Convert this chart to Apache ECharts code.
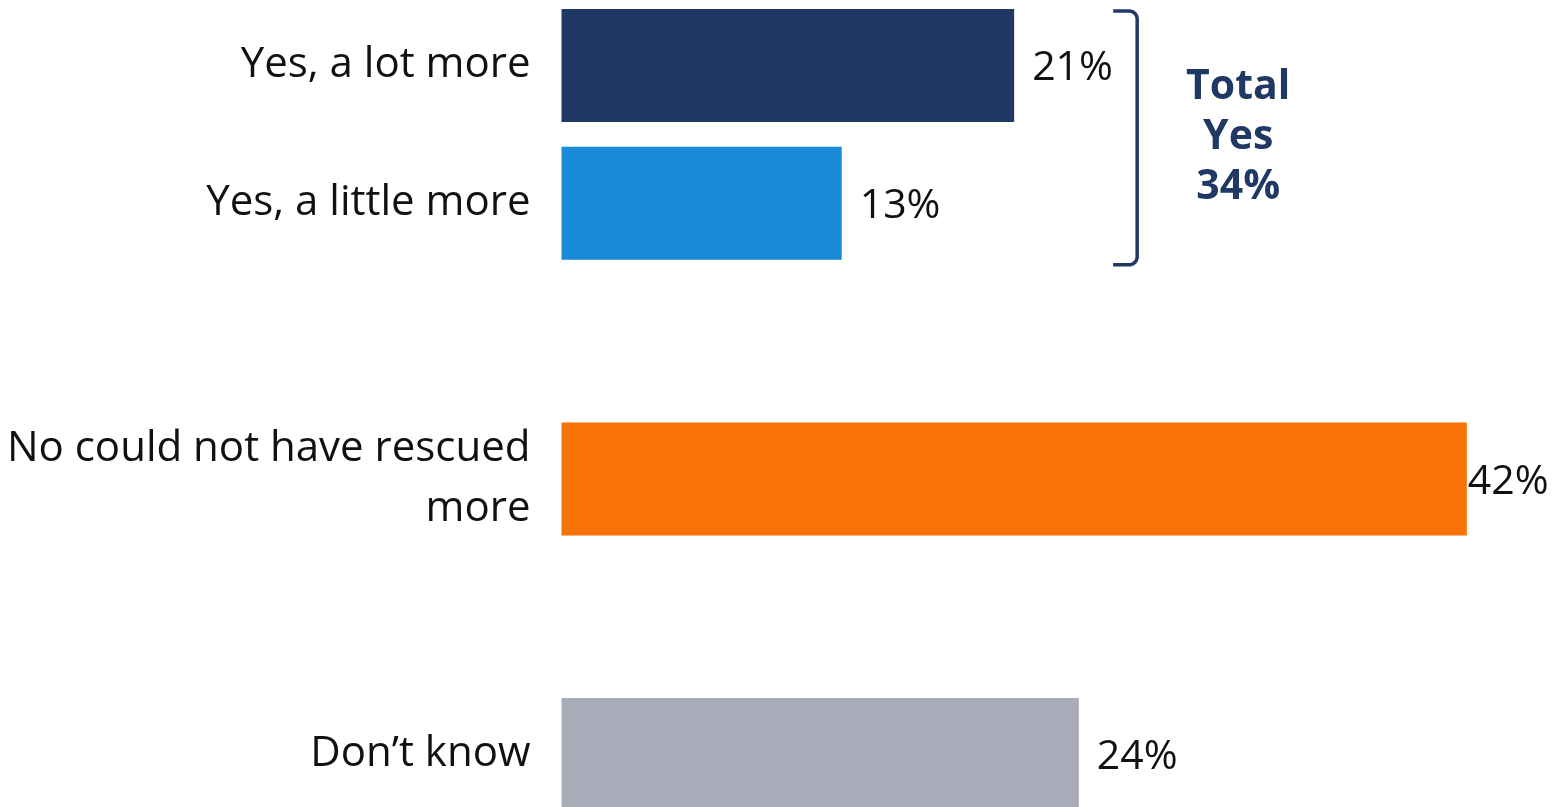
<!DOCTYPE html>
<html>
<head>
<meta charset="utf-8">
<style>
  html, body { margin: 0; padding: 0; background: #ffffff; }
  #chart { width: 1560px; height: 807px; }
</style>
<script src="https://cdn.jsdelivr.net/npm/echarts@6/dist/echarts.min.js"></script>
</head>
<body>
<div id="chart"></div>
<script>
// Answer categories (blank entries leave space between answer groups)
const categories = [
  'Yes, a lot more',
  'Yes, a little more',
  ' ',
  'No could not have rescued\nmore',
  '  ',
  'Don\u2019t know'
];
// Share of respondents, percent
const values = [21, 13, null, 42, null, 24];
const barColors = ['#1f3864', '#1a89d8', null, '#f87306', null, '#a9abb8'];
// Answers summed into the bracketed total
const yesIndexes = [0, 1];

const FONT = '"Open Sans", "Liberation Sans", sans-serif';
const NAVY = '#1f3864';
const BAR_WIDTH = 113;

const chart = echarts.init(document.getElementById('chart'), null, { renderer: 'canvas' });

const seriesData = values.map((v, i) => {
  if (v === null) return '-';
  return {
    value: v,
    itemStyle: { color: barColors[i] },
    label: { distance: v >= 40 ? 1 : 18 }
  };
});

chart.setOption({
  animation: false,
  backgroundColor: '#ffffff',
  grid: { left: 561.5, width: 970, top: 65.5, bottom: 52.5 },
  xAxis: {
    type: 'value', min: 0, max: 45,
    show: false
  },
  yAxis: {
    type: 'category',
    data: categories,
    inverse: true,
    boundaryGap: false,
    axisLine: { show: false },
    axisTick: { show: false },
    splitLine: { show: false },
    axisLabel: {
      margin: 31,
      color: '#111111',
      fontFamily: FONT,
      fontSize: 42,
      lineHeight: 60,
      align: 'right',
      padding: [6, 0, 0, 0]
    }
  },
  series: [{
    type: 'bar',
    data: seriesData,
    barWidth: BAR_WIDTH,
    label: {
      show: true,
      position: 'right',
      offset: [0, 3],
      formatter: p => p.value + '%',
      color: '#111111',
      fontFamily: FONT,
      fontSize: 41
    }
  }]
});

// Bracket and total for the "Yes" answers, placed from the axis scales
const half = BAR_WIDTH / 2;
const topY = chart.convertToPixel({ yAxisIndex: 0 }, yesIndexes[0]) - half + 2;
const botY = chart.convertToPixel({ yAxisIndex: 0 }, yesIndexes[yesIndexes.length - 1]) + half + 5;
const maxYes = Math.max(...yesIndexes.map(i => values[i]));
const anchorX = chart.convertToPixel({ xAxisIndex: 0 }, maxYes);
const lineX = anchorX + 123;
const startX = anchorX + 99;
const r = 8;
const totalYes = yesIndexes.reduce((s, i) => s + values[i], 0);

// Right-hand bracket outline with rounded corners
const bracketPts = [[startX, topY]];
for (let k = 0; k <= 8; k++) {
  const a = -Math.PI / 2 + (k / 8) * (Math.PI / 2);
  bracketPts.push([lineX - r + r * Math.cos(a), topY + r + r * Math.sin(a)]);
}
for (let k = 0; k <= 8; k++) {
  const a = (k / 8) * (Math.PI / 2);
  bracketPts.push([lineX - r + r * Math.cos(a), botY - r + r * Math.sin(a)]);
}
bracketPts.push([startX, botY]);

chart.setOption({
  graphic: [
    {
      type: 'polyline',
      shape: { points: bracketPts },
      style: { stroke: NAVY, lineWidth: 3.5, fill: null, lineJoin: 'round' }
    },
    {
      type: 'text',
      x: lineX + 101,
      y: (topY + botY) / 2 - 1,
      style: {
        text: 'Total\nYes\n' + totalYes + '%',
        fill: NAVY,
        font: 'bold 41px ' + FONT,
        lineHeight: 50,
        align: 'center',
        verticalAlign: 'middle'
      }
    }
  ]
});
</script>
</body>
</html>
